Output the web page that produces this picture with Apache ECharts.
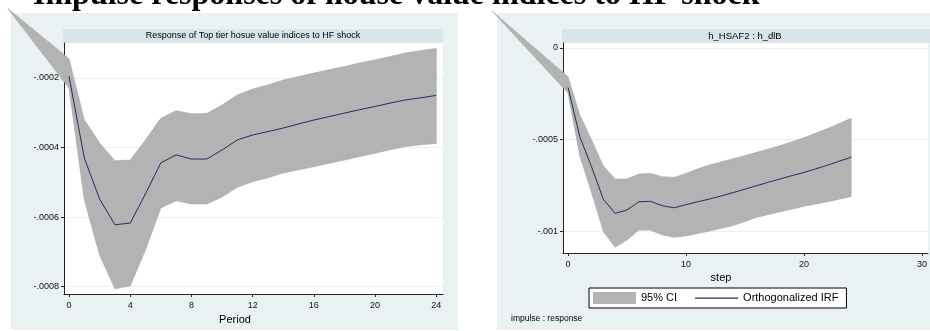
<!DOCTYPE html>
<html><head><meta charset="utf-8">
<script src="https://cdn.jsdelivr.net/npm/echarts@6/dist/echarts.min.js"></script>
<style>html,body{margin:0;padding:0;background:#fff}#c{width:930px;height:331px}</style>
</head><body><div id="c"></div>
<script>
// ---------- Left panel data ----------
const periodsL = [0,1,2,3,4,5,6,7,8,9,10,11,12,13,14,15,16,17,18,19,20,21,22,23,24];
const irfL = [-0.000195,-0.00043,-0.000548,-0.000622,-0.000617,-0.000533,-0.000444,-0.000421,-0.000433,-0.000433,-0.000407,-0.000378,-0.000364,-0.000354,-0.000344,-0.000332,-0.000321,-0.000311,-0.000301,-0.000291,-0.000282,-0.000272,-0.000263,-0.000257,-0.00025];
const ciPeriodsL = [-4,0,1,2,3,4,5,6,7,8,9,10,11,12,13,14,15,16,17,18,19,20,21,22,23,24];
const ciUpperL = [0,-0.000145,-0.00032,-0.000387,-0.000438,-0.000436,-0.000378,-0.000316,-0.000294,-0.000303,-0.000302,-0.000278,-0.000249,-0.000232,-0.00022,-0.000206,-0.000196,-0.000186,-0.000176,-0.000167,-0.000157,-0.000148,-0.000138,-0.000128,-0.000121,-0.000115];
const ciLowerL = [0,-0.000229,-0.00055,-0.000709,-0.000806,-0.000798,-0.000694,-0.000574,-0.000553,-0.000562,-0.000562,-0.000542,-0.000514,-0.000498,-0.000487,-0.000473,-0.000464,-0.000455,-0.000445,-0.000436,-0.000426,-0.000416,-0.000406,-0.000397,-0.000392,-0.000388];
const xTicksL = [0,4,8,12,16,20,24];
const yTicksL = [-0.0008,-0.0006,-0.0004,-0.0002];

// ---------- Right panel data ----------
const stepsR = [0,1,2,3,4,5,6,7,8,9,10,11,12,13,14,15,16,17,18,19,20,21,22,23,24];
const irfR = [-0.000215,-0.000485,-0.00065,-0.000827,-0.000903,-0.000885,-0.00084,-0.000838,-0.000862,-0.000873,-0.000856,-0.00084,-0.000825,-0.000808,-0.00079,-0.000771,-0.000752,-0.000733,-0.000715,-0.000697,-0.00068,-0.00066,-0.00064,-0.000618,-0.000597];
const ciStepsR = [-6.4,0,1,2,3,4,5,6,7,8,9,10,11,12,13,14,15,16,17,18,19,20,21,22,23,24];
const ciUpperR = [0.0002,-0.000157,-0.000366,-0.000503,-0.000645,-0.000716,-0.000716,-0.000689,-0.000685,-0.000703,-0.000707,-0.000685,-0.00066,-0.000639,-0.000622,-0.000605,-0.000588,-0.00057,-0.000552,-0.000533,-0.000512,-0.00049,-0.000465,-0.00044,-0.000412,-0.000384];
const ciLowerR = [0.0002,-0.000246,-0.00059,-0.00079,-0.001004,-0.001089,-0.001049,-0.000995,-0.000995,-0.001022,-0.001034,-0.001027,-0.001013,-0.001,-0.000985,-0.00097,-0.000948,-0.000925,-0.00091,-0.000895,-0.00088,-0.000865,-0.000852,-0.00084,-0.000826,-0.000812];
const xTicksR = [0,10,20,30];
const yTicksR = [-0.001,-0.0005,0];

// ---------- Texts ----------
const mainTitle = 'Impulse responses of house value indices to HF shock';
const titleL = 'Response of Top tier hosue value indices to HF shock';
const titleR = 'h_HSAF2 : h_dlB';
const xNameL = 'Period';
const xNameR = 'step';
const noteR = 'impulse : response';
const ciName = '95% CI';
const irfName = 'Orthogonalized IRF';

const FONT = '"Liberation Sans", Arial, sans-serif';
const BAND = '#b3b3b3';
const NAVY = '#1f2d63';
// thin horizontal line icon inside a 43x12 box (the empty moves keep the box height)
const LINE_ICON = 'path://M0,0 M0,12 M0,5.5 L43,5.5 L43,6.7 L0,6.7 Z';

function fmt(v){ return v === 0 ? '0' : String(v).replace('0.', '.'); }

function bandSeries(name, idx, xs, up, lo){
  return {
    type:'custom', name:name, xAxisIndex:idx, yAxisIndex:idx, clip:false, z:2,
    itemStyle:{color:BAND},
    data: xs.map((x,i)=>[x, lo[i], up[i]]),
    encode:{x:0, y:[1,2]},
    renderItem:function(params, api){
      if (params.dataIndex !== 0) return null;
      const pts = [];
      for (let i=0;i<xs.length;i++) pts.push(api.coord([xs[i], up[i]]));
      for (let i=xs.length-1;i>=0;i--) pts.push(api.coord([xs[i], lo[i]]));
      return {type:'polygon', shape:{points:pts}, style:{fill:BAND, stroke:'#a6a6a6', lineWidth:0.6}};
    }
  };
}
function lineSeries(name, idx, xs, ys){
  return {type:'line', name:name, xAxisIndex:idx, yAxisIndex:idx, z:3, symbol:'none', showSymbol:false,
    data: xs.map((x,i)=>[x, ys[i]]), lineStyle:{color:NAVY, width:1}, itemStyle:{color:NAVY}};
}
function xAxis(idx, min, max, ticks){
  return {type:'value', gridIndex:idx, min:min, max:max,
    axisLine:{show:true, onZero:false, lineStyle:{color:'#222', width:1}},
    axisTick:{show:true, length:3, customValues:ticks, lineStyle:{color:'#222'}},
    axisLabel:{customValues:ticks, margin:7, fontSize:9, fontFamily:FONT, color:'#111'},
    splitLine:{show:false}};
}
function yAxis(idx, min, max, ticks){
  return {type:'value', gridIndex:idx, min:min, max:max,
    axisLine:{show:true, onZero:false, lineStyle:{color:'#222', width:1}},
    axisTick:{show:true, length:3, customValues:ticks, lineStyle:{color:'#222'}},
    axisLabel:{customValues:ticks, margin:5, fontSize:9, fontFamily:FONT, color:'#111', formatter:fmt},
    splitLine:{show:true, lineStyle:{color:'#e8f0f2', width:1}}};
}

const chart = echarts.init(document.getElementById('c'), null, {renderer:'canvas'});
chart.setOption({
  animation:false,
  backgroundColor:'#fff',
  grid:[
    {left:64, top:43, width:379, height:251, show:true, backgroundColor:'#fff', borderWidth:0},
    {left:563, top:43, width:365, height:210, show:true, backgroundColor:'#fff', borderWidth:0}
  ],
  xAxis:[ xAxis(0, -0.327, 24.44, xTicksL), xAxis(1, -0.424, 30.51, xTicksR) ],
  yAxis:[ yAxis(0, -0.000821, -0.0000994, yTicksL), yAxis(1, -0.00112, 0.0000273, yTicksR) ],
  legend:{left:589, top:288, itemWidth:43, itemHeight:12, itemGap:18, padding:[4,8,4,4],
    borderColor:'#000', borderWidth:1, backgroundColor:'#fff',
    textStyle:{fontSize:11, fontFamily:FONT, color:'#000'},
    data:[{name:ciName, icon:'rect'}, {name:irfName, icon:LINE_ICON}]},
  graphic:[
    {type:'rect', z:-10, silent:true, shape:{x:11,y:13,width:447,height:317}, style:{fill:'#e9f1f3'}},
    {type:'rect', z:-10, silent:true, shape:{x:497,y:13,width:433,height:317}, style:{fill:'#e9f1f3'}},
    {type:'rect', z:-5, silent:true, shape:{x:63,y:29,width:380,height:14}, style:{fill:'#d8e5eb'}},
    {type:'rect', z:-5, silent:true, shape:{x:562,y:29,width:368,height:14}, style:{fill:'#d8e5eb'}},
    {type:'text', x:253, y:36, silent:true, style:{text:titleL, font:'9px '+FONT, fill:'#000', align:'center', verticalAlign:'middle'}},
    {type:'text', x:745, y:36, silent:true, style:{text:titleR, font:'9.5px '+FONT, fill:'#000', align:'center', verticalAlign:'middle'}},
    {type:'text', x:235, y:320, silent:true, style:{text:xNameL, font:'11px '+FONT, fill:'#000', align:'center', verticalAlign:'middle'}},
    {type:'text', x:721, y:278, silent:true, style:{text:xNameR, font:'11px '+FONT, fill:'#000', align:'center', verticalAlign:'middle'}},
    {type:'text', x:511, y:319, silent:true, style:{text:noteR, font:'8.5px '+FONT, fill:'#000', align:'left', verticalAlign:'middle'}},
    {type:'text', x:33, y:12, z:10, silent:true, style:{text:mainTitle, fontFamily:'"Liberation Serif", serif', fontWeight:'bold', fontSize:32, lineHeight:32, fill:'#000', align:'left', verticalAlign:'bottom'}}
  ],
  series:[
    bandSeries('ciL', 0, ciPeriodsL, ciUpperL, ciLowerL),
    lineSeries('irfL', 0, periodsL, irfL),
    bandSeries(ciName, 1, ciStepsR, ciUpperR, ciLowerR),
    lineSeries(irfName, 1, stepsR, irfR)
  ]
});
</script></body></html>
